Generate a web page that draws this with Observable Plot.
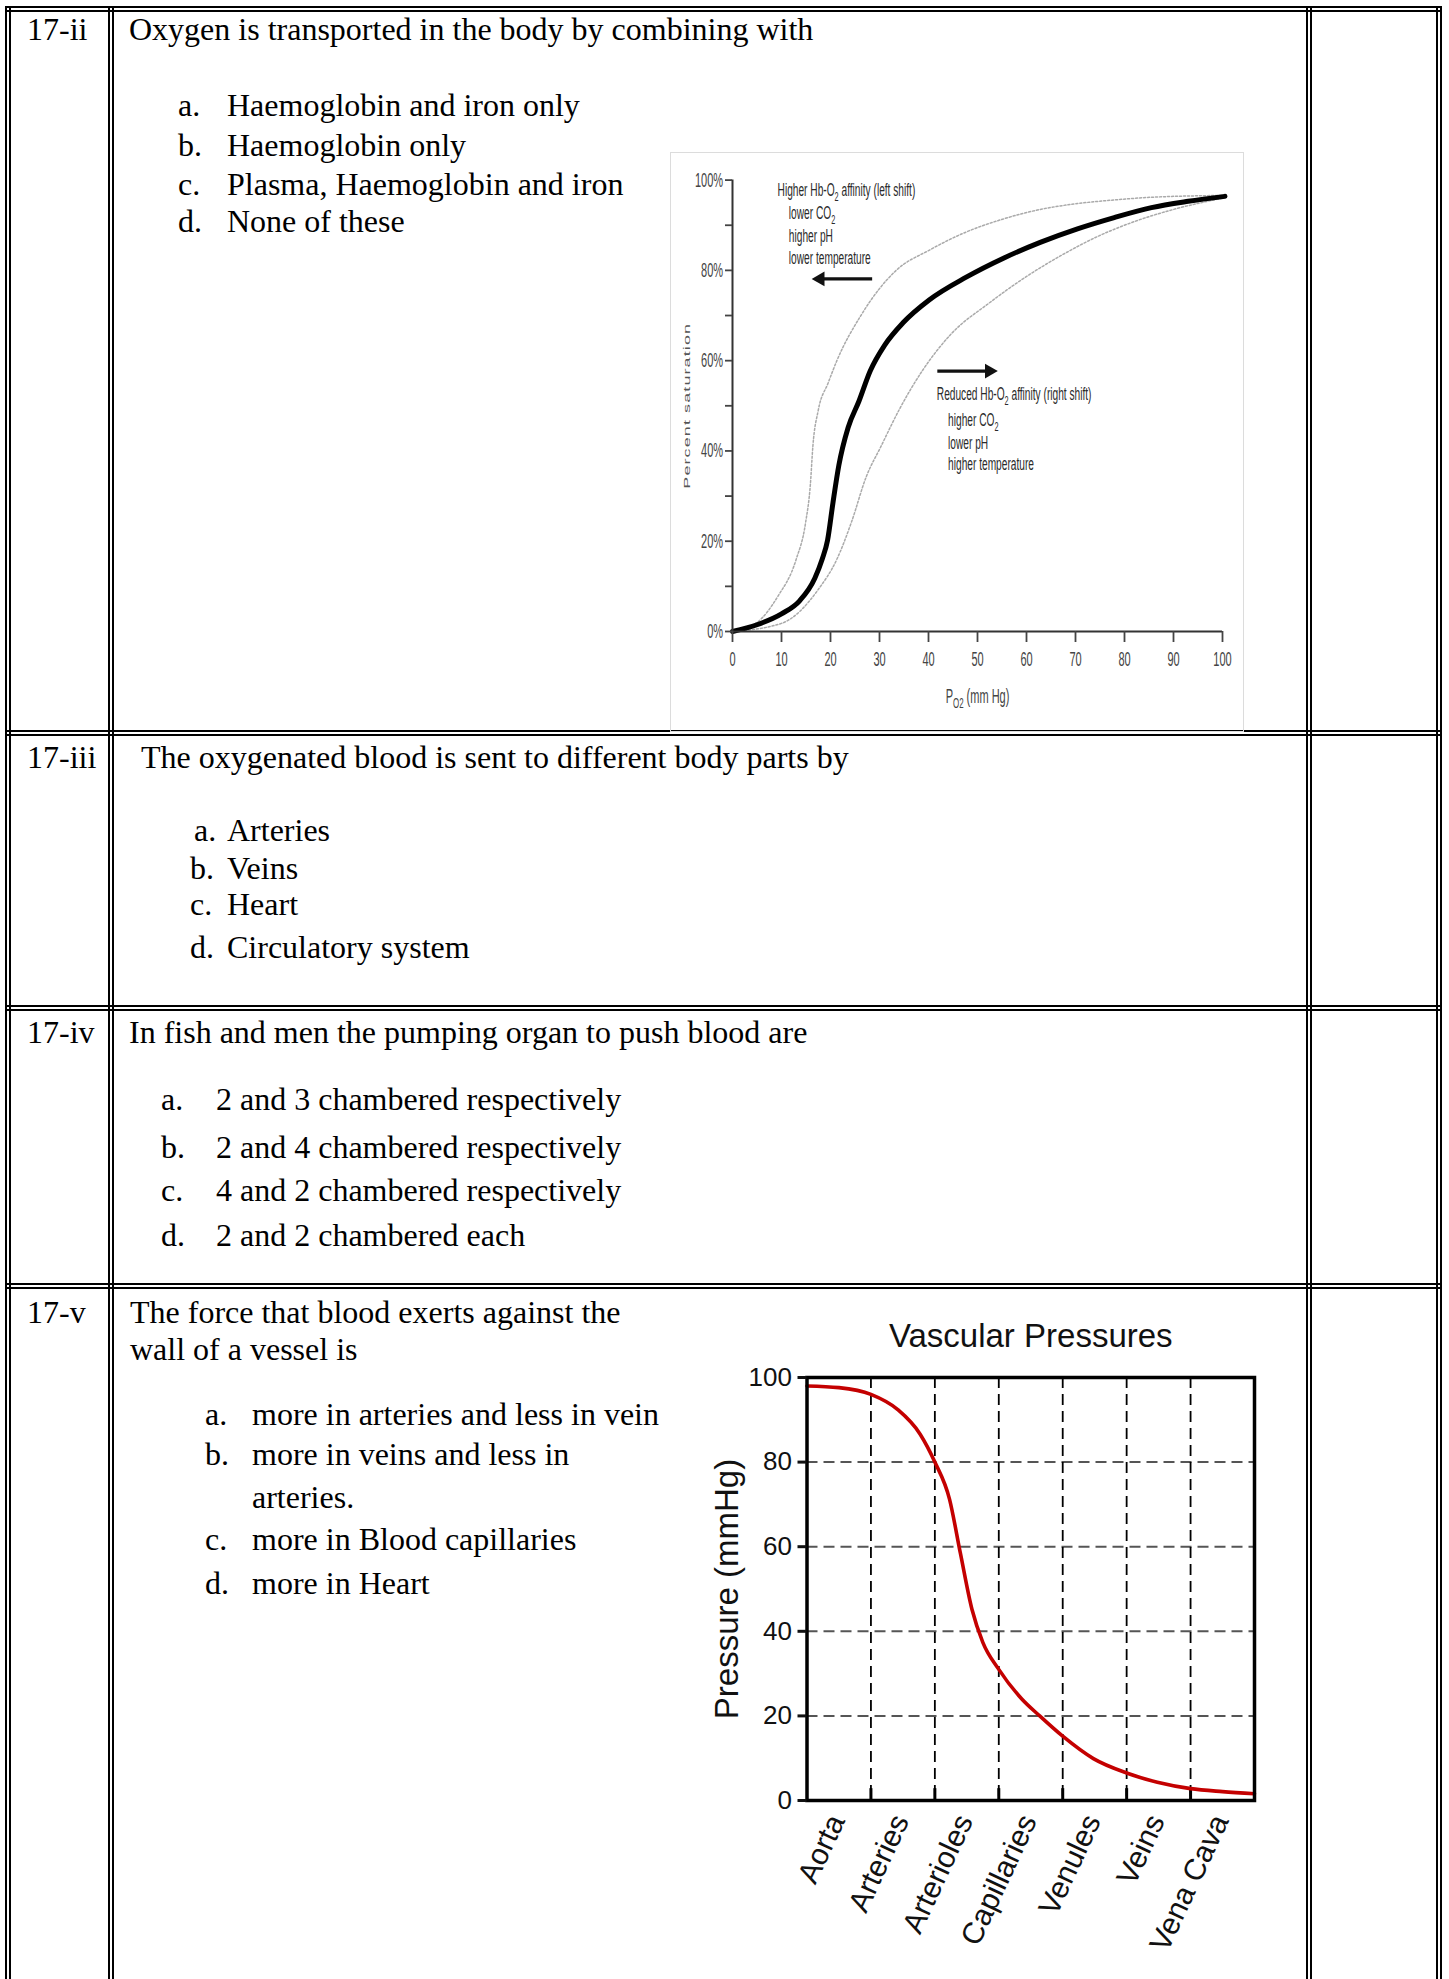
<!DOCTYPE html>
<html>
<head>
<meta charset="utf-8">
<script src="https://cdn.jsdelivr.net/npm/d3@7"></script>
<script src="https://cdn.jsdelivr.net/npm/@observablehq/plot@0.6"></script>
<style>
html,body{margin:0;padding:0;background:#fff;}
#page{position:relative;width:1449px;height:1979px;overflow:hidden;background:#fff;}
.t{position:absolute;font-family:"Liberation Serif","Times New Roman",serif;font-size:32px;line-height:32px;white-space:pre;color:#000;}
.hl{position:absolute;height:6px;border-top:2px solid #000;border-bottom:2px solid #000;box-sizing:border-box;}
.vl{position:absolute;width:6px;border-left:2px solid #000;border-right:2px solid #000;box-sizing:border-box;}
.box{position:absolute;border:1px solid #dcdcdc;box-sizing:border-box;}
.chart{position:absolute;}
</style>
</head>
<body>
<div id="page"></div>
<script>
// ---------------- DATA ----------------
const questionIds = ["17-ii", "17-iii", "17-iv", "17-v"];
const optionLetters = ["a.", "b.", "c.", "d."];
const q1Text = "Oxygen is transported in the body by combining with";
const q1Options = ["Haemoglobin and iron only", "Haemoglobin only", "Plasma, Haemoglobin and iron", "None of these"];
const q2Text = "The oxygenated blood is sent to different body parts by";
const q2Options = ["Arteries", "Veins", "Heart", "Circulatory system"];
const q3Text = "In fish and men the pumping organ to push blood are";
const q3Options = ["2 and 3 chambered respectively", "2 and 4 chambered respectively", "4 and 2 chambered respectively", "2 and 2 chambered each"];
const q4TextLines = ["The force that blood exerts against the", "wall of a vessel is"];
const q4Options = ["more in arteries and less in vein", "more in veins and less in", "more in Blood capillaries", "more in Heart"];
const q4Wrap = "arteries.";

// Oxygen–haemoglobin dissociation curves (PO2 mm Hg, % saturation)
const normalPO2 = [0, 5, 10, 13.7, 16.8, 18.3, 19.4, 20.5, 21.7, 23.6, 25.8, 28.1, 31.1, 34.9, 40.2, 47.7, 55.3, 62.8, 70.4, 77.9, 85.5, 93, 100.5];
const normalSat = [0, 1.5, 3.9, 6.8, 11.8, 16, 20.2, 28.5, 36.8, 45.2, 51, 57.7, 63.5, 68.5, 73.5, 78.5, 82.7, 86.2, 89.2, 91.7, 93.9, 95.3, 96.4];
const leftPO2 = [0, 5, 9.2, 13, 14.9, 15.9, 16.4, 17.5, 19.5, 21.3, 26.2, 33.4, 40.2, 47.7, 55.3, 62.8, 70.4, 77.9, 85.5, 100];
const leftSat = [0, 2, 7.7, 16, 24, 32.7, 41, 49, 55, 60, 70, 80, 84.5, 88.5, 91.4, 93.5, 94.8, 95.6, 96.2, 96.6];
const rightPO2 = [0, 10, 17.5, 21.3, 24.3, 27.3, 30.3, 34.1, 38.7, 44.7, 52.3, 59.8, 67.4, 74.9, 82.5, 90, 100];
const rightSat = [0, 1.8, 9.3, 16, 24.3, 34.3, 41, 49.3, 57.7, 66, 72.7, 78.5, 83.5, 87.7, 91, 93.5, 96];
const po2Ticks = [0, 10, 20, 30, 40, 50, 60, 70, 80, 90, 100];
const satTicks = [0, 10, 20, 30, 40, 50, 60, 70, 80, 90, 100];
const leftNotes = ["Higher Hb-O{2} affinity (left shift)", "lower CO{2}", "higher pH", "lower temperature"];
const rightNotes = ["Reduced Hb-O{2} affinity (right shift)", "higher CO{2}", "lower pH", "higher temperature"];
const o2XLabel = "P{O2} (mm Hg)";
const o2YLabel = "Percent saturation";

// Vascular pressures
const vessels = ["Aorta", "Arteries", "Arterioles", "Capillaries", "Venules", "Veins", "Vena Cava"];
const pressurePos = [0, 0.5, 1, 1.42, 1.77, 2, 2.23, 2.4, 2.58, 2.75, 3, 3.36, 3.64, 4, 4.48, 5, 5.48, 6, 6.5, 7];
const pressureVal = [98, 97.6, 96, 92.4, 86.6, 80, 71.2, 58.4, 45.2, 37.4, 31, 24, 20, 15.2, 9.9, 6.5, 4.3, 2.8, 2.1, 1.6];
const pressureTicks = [0, 20, 40, 60, 80, 100];
const pressureGrid = [20, 40, 60, 80];
const vpTitle = "Vascular Pressures";
const vpYLabel = "Pressure (mmHg)";

// ---------------- LAYOUT ----------------
const page = document.getElementById("page");
function txt(x, base, s) {
  const d = document.createElement("div");
  d.className = "t"; d.style.left = x + "px"; d.style.top = (base - 27) + "px";
  d.textContent = s; page.appendChild(d); return d;
}
function hline(y) { const d = document.createElement("div"); d.className = "hl"; d.style.left = "5px"; d.style.width = "1437px"; d.style.top = y + "px"; page.appendChild(d); }
function vline(x) { const d = document.createElement("div"); d.className = "vl"; d.style.left = x + "px"; d.style.top = "6px"; d.style.height = "1980px"; page.appendChild(d); }

[6, 730, 1005, 1283].forEach(hline);
[5, 108, 1306, 1436].forEach(vline);

const labelX = 27;
// Row 1
txt(labelX, 40, questionIds[0]);
txt(129, 40, q1Text);
[116, 156, 195, 232].forEach((b, i) => { txt(178, b, optionLetters[i]); txt(227, b, q1Options[i]); });
// Row 2
txt(labelX, 768, questionIds[1]);
txt(141, 768, q2Text);
[841, 879, 915, 958].forEach((b, i) => { txt(i === 0 ? 194 : 190, b, optionLetters[i]); txt(227, b, q2Options[i]); });
// Row 3
txt(labelX, 1043, questionIds[2]);
txt(129, 1043, q3Text);
[1110, 1158, 1201, 1246].forEach((b, i) => { txt(161, b, optionLetters[i]); txt(216, b, q3Options[i]); });
// Row 4
txt(labelX, 1323, questionIds[3]);
txt(130, 1323, q4TextLines[0]);
txt(130, 1360, q4TextLines[1]);
[1425, 1465, 1550, 1594].forEach((b, i) => { txt(205, b, optionLetters[i]); txt(252, b, q4Options[i]); });
txt(252, 1508, q4Wrap);

// ---------------- helpers ----------------
function subscripts(svg, shift) {
  svg.querySelectorAll("text").forEach(t => {
    const s = t.textContent;
    if (!s.includes("{")) return;
    while (t.firstChild) t.removeChild(t.firstChild);
    let down = false;
    s.split(/(\{[^}]*\})/).forEach(p => {
      if (!p) return;
      const ts = document.createElementNS("http://www.w3.org/2000/svg", "tspan");
      if (p.startsWith("{")) { ts.textContent = p.slice(1, -1); ts.setAttribute("dy", shift); ts.setAttribute("font-size", "0.72em"); down = true; }
      else { ts.textContent = p; if (down) { ts.setAttribute("dy", -shift); down = false; } }
      t.appendChild(ts);
    });
  });
}
function squishTexts(svg, sx) {
  svg.querySelectorAll("text").forEach(t => {
    const r = t.getBoundingClientRect();
    if (!r.width) return;
    const old = t.getAttribute("transform") || "";
    const anchor = getComputedStyle(t).textAnchor;
    let ax = anchor === "end" ? r.right : anchor === "middle" ? r.left + r.width / 2 : r.left;
    if (old.includes("rotate")) ax = r.left + r.width / 2;
    const p = svg.createSVGPoint(); p.x = ax; p.y = r.top;
    const q = p.matrixTransform(t.parentNode.getScreenCTM().inverse());
    t.setAttribute("transform", `translate(${q.x},0) scale(${sx},1) translate(${-q.x},0) ${old}`);
  });
}

// ---------------- CHART 1: O2 dissociation ----------------
const box = document.createElement("div");
box.className = "box";
Object.assign(box.style, {left: "670px", top: "152px", width: "574px", height: "580px"});
page.appendChild(box);

const normal = normalPO2.map((x, i) => ({x, y: normalSat[i]}));
const leftC = leftPO2.map((x, i) => ({x, y: leftSat[i]}));
const rightC = rightPO2.map((x, i) => ({x, y: rightSat[i]}));
const leftNoteX = [9.2, 11.5, 11.5, 11.5], leftNoteY = [97.7, 92.7, 87.7, 82.7];
const rightNoteX = [41.7, 44, 44, 44], rightNoteY = [52.7, 46.8, 41.8, 37];
const arrows = [{x1: 28.5, x2: 17.9, y: 78.1, dir: -1}, {x1: 41.8, x2: 52.4, y: 57.7, dir: 1}];

const oxy = Plot.plot({
  width: 573, height: 575,
  marginLeft: 62, marginRight: 21, marginTop: 27.6, marginBottom: 96,
  x: {domain: [0, 100], axis: null},
  y: {domain: [0, 100], axis: null},
  style: {background: "transparent", overflow: "visible", fontFamily: "'Liberation Sans', Arial, sans-serif"},
  marks: [
    Plot.line(leftC, {x: "x", y: "y", stroke: "#aaa", strokeWidth: 1.5, strokeDasharray: "2,2", curve: "monotone-x"}),
    Plot.line(rightC, {x: "x", y: "y", stroke: "#aaa", strokeWidth: 1.5, strokeDasharray: "2,2", curve: "monotone-x"}),
    Plot.line(normal, {x: "x", y: "y", stroke: "#000", strokeWidth: 5, curve: "monotone-x"}),
    Plot.ruleX([0], {y1: 0, y2: 100, stroke: "#333", strokeWidth: 2}),
    Plot.ruleY([0], {x1: 0, x2: 100, stroke: "#333", strokeWidth: 2}),
    Plot.axisY({ticks: satTicks, tickFormat: d => d % 20 === 0 ? d + "%" : "", tickSize: 7, tickPadding: 2.5, fontSize: 20, color: "#444", strokeWidth: 1.8, label: null}),
    Plot.axisX({ticks: po2Ticks, tickSize: 11, tickPadding: 9.5, fontSize: 20, color: "#444", strokeWidth: 1.8, label: null}),
    Plot.text(leftNotes, {x: (d, i) => leftNoteX[i], y: (d, i) => leftNoteY[i], text: d => d, textAnchor: "start", fontSize: 18.5, fill: "#2a2a2a"}),
    Plot.text(rightNotes, {x: (d, i) => rightNoteX[i], y: (d, i) => rightNoteY[i], text: d => d, textAnchor: "start", fontSize: 18.5, fill: "#2a2a2a"}),
    Plot.link(arrows, {x1: "x1", x2: "x2", y1: "y", y2: "y", stroke: "#111", strokeWidth: 3.2}),
    Plot.dot(arrows, {x: "x2", y: "y", symbol: "triangle", r: 5.5, fill: "#111", stroke: "none", rotate: d => 90 * d.dir}),
    Plot.text([o2XLabel], {text: d => d, frameAnchor: "bottom", lineAnchor: "middle", textAnchor: "middle", dy: 65, fontSize: 20, fill: "#444"}),
    Plot.text([o2YLabel], {text: d => d, frameAnchor: "left", lineAnchor: "middle", textAnchor: "middle", dx: -45.4, rotate: -90, fontSize: 18, fill: "#555"})
  ]
});
oxy.classList.add("chart");
Object.assign(oxy.style, {left: "670px", top: "152px"});
page.appendChild(oxy);
subscripts(oxy, 5);
oxy.querySelectorAll("text").forEach(t => { if (t.textContent === o2YLabel) t.setAttribute("letter-spacing", "1.1"); });
squishTexts(oxy, 0.55);

// ---------------- CHART 2: Vascular pressures ----------------
const boundaries = vessels.slice(1).map((d, i) => i + 1);
const pressure = pressurePos.map((x, i) => ({x, y: pressureVal[i]}));

const vasc = Plot.plot({
  width: 580, height: 680,
  marginLeft: 116.5, marginRight: 16, marginTop: 77, marginBottom: 180,
  x: {domain: [0, vessels.length], axis: null},
  y: {domain: [0, 100], axis: null},
  style: {background: "transparent", overflow: "visible", fontFamily: "'Liberation Sans', Arial, sans-serif", color: "#111"},
  marks: [
    Plot.ruleY(pressureGrid, {stroke: "#555", strokeWidth: 2, strokeDasharray: "11,6"}),
    Plot.ruleX(boundaries, {stroke: "#000", strokeWidth: 1.8, strokeDasharray: "11,6"}),
    Plot.ruleX(boundaries, {y1: 0, y2: 2.8, stroke: "#000", strokeWidth: 3}),
    Plot.line(pressure, {x: "x", y: "y", stroke: "#c40000", strokeWidth: 3.6, curve: "monotone-x"}),
    Plot.frame({stroke: "#000", strokeWidth: 3.5}),
    Plot.axisY({ticks: pressureTicks, tickSize: 9, tickPadding: 6, fontSize: 26, strokeWidth: 3, label: null, color: "#111"}),
    Plot.text(vessels, {x: (d, i) => i + 0.5, frameAnchor: "bottom", text: d => d, rotate: -65, textAnchor: "end", lineAnchor: "middle", dx: -2, dy: 16, fontSize: 30, fill: "#111"}),
    Plot.text([vpTitle], {text: d => d, frameAnchor: "top", lineAnchor: "middle", textAnchor: "middle", dy: -41.3, fontSize: 33, fill: "#111"}),
    Plot.text([vpYLabel], {text: d => d, frameAnchor: "left", lineAnchor: "middle", textAnchor: "middle", dx: -79.5, rotate: -90, fontSize: 33, fill: "#111"})
  ]
});
vasc.classList.add("chart");
Object.assign(vasc.style, {left: "690px", top: "1300px"});
page.appendChild(vasc);
</script>
</body>
</html>
